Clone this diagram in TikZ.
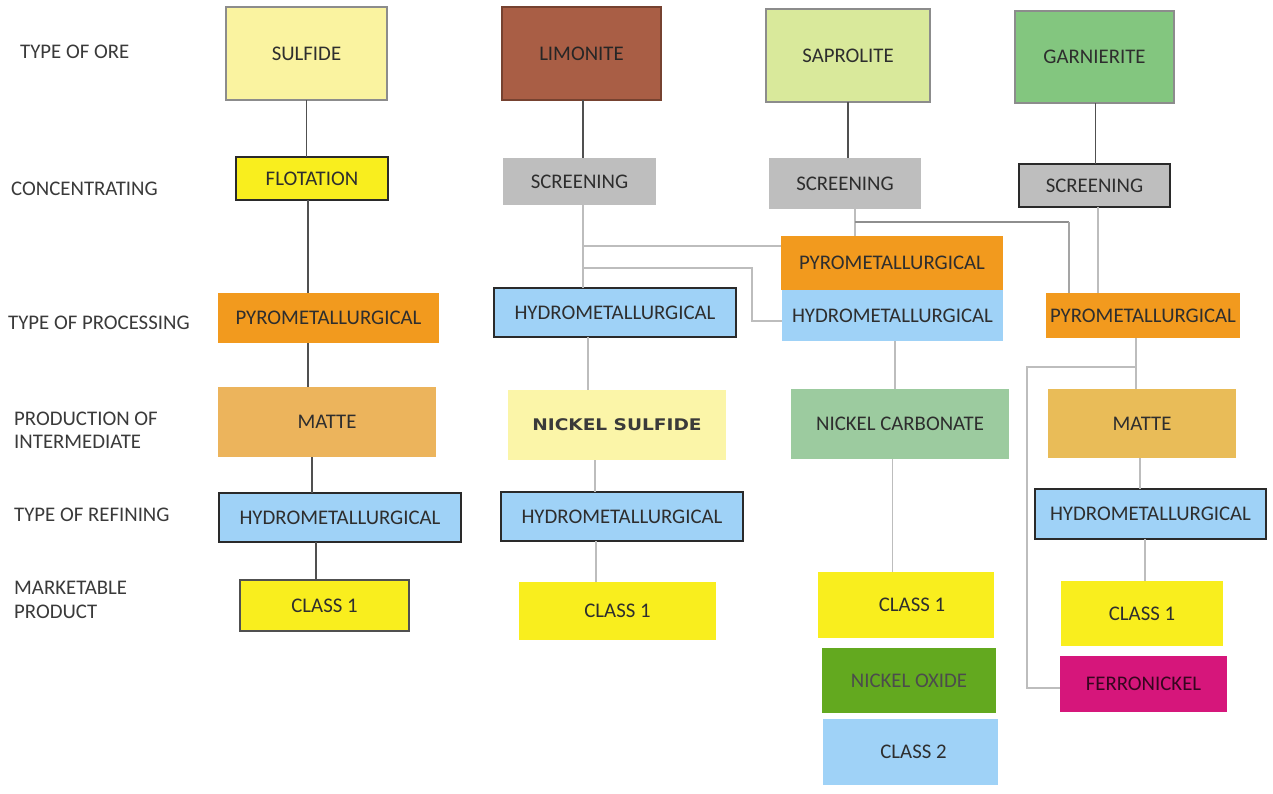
\documentclass[tikz,border=0pt]{standalone}
\usepackage{fontspec}
\usepackage{graphicx}
\setmainfont{Carlito}
\newfontfamily\nsfont{DejaVu Sans}
\definecolor{csulf}{HTML}{FAF3A0}
\definecolor{clim}{HTML}{A95E45}
\definecolor{csap}{HTML}{D9E99B}
\definecolor{cgarn}{HTML}{83C67F}
\definecolor{cgray}{HTML}{BEBEBE}
\definecolor{cyel}{HTML}{F9EE1E}
\definecolor{corange}{HTML}{F29A1E}
\definecolor{cmatteA}{HTML}{ECB45C}
\definecolor{cmatteB}{HTML}{E9BC58}
\definecolor{cblue}{HTML}{9FD2F7}
\definecolor{cnis}{HTML}{FBF5A8}
\definecolor{cncarb}{HTML}{9CCB9F}
\definecolor{cnox}{HTML}{63A91F}
\definecolor{cmag}{HTML}{D6167B}
\definecolor{boxtxt}{HTML}{2E2E2E}
\definecolor{labtxt}{HTML}{3A3A3A}
\definecolor{thinbord}{HTML}{8C8C8C}
\definecolor{darkbord}{HTML}{2A2A2A}
\definecolor{darkln}{HTML}{505050}
\definecolor{lightln}{HTML}{BDBDBD}
\definecolor{medln}{HTML}{8E8E8E}
\begin{document}
\begin{tikzpicture}[x=1pt,y=-1pt,
  box/.style={rectangle, anchor=north west, inner sep=0pt, outer sep=0pt, align=center,
    font=\fontsize{20.8}{23}\selectfont, text=boxtxt},
  thinb/.style={draw=thinbord, line width=1.2pt},
  darkb/.style={draw=darkbord, line width=1.8pt},
  lab/.style={anchor=west, inner sep=0pt, align=left, text=labtxt,
    font=\fontsize{20.8}{23.5}\selectfont},
  dk/.style={draw=darkln, line width=1.6pt},
  lt/.style={draw=lightln, line width=1.2pt},
  md/.style={draw=medln, line width=1.8pt}]
\useasboundingbox (0,0) rectangle (1273,793);
\fill[white] (0,0) rectangle (1273,793);

% row labels
\node[lab] (r1) at (20,52) {TYPE OF ORE};
\node[lab] (r2) at (11,189) {CONCENTRATING};
\node[lab] (r3) at (8,323) {TYPE OF PROCESSING};
\node[lab] (r4) at (14,430) {PRODUCTION OF\\INTERMEDIATE};
\node[lab] (r5) at (14,515) {TYPE OF REFINING};
\node[lab] (r6) at (14,600) {MARKETABLE\\PRODUCT};

% column 1
\node[box, thinb, fill=csulf, minimum width=161pt, minimum height=93pt] (sulf) at (226,7) {SULFIDE};
\node[box, darkb, fill=cyel, minimum width=152pt, minimum height=43pt] (flot) at (236,157) {FLOTATION};
\node[box, fill=corange, minimum width=221pt, minimum height=50pt] (pyroA) at (218,293) {PYROMETALLURGICAL};
\node[box, fill=cmatteA, minimum width=218pt, minimum height=70pt] (matteA) at (218,387) {MATTE};
\node[box, darkb, fill=cblue, minimum width=242pt, minimum height=49pt] (hydroA) at (219,493) {HYDROMETALLURGICAL};
\node[box, draw=darkln, line width=1.5pt, fill=cyel, minimum width=169pt, minimum height=51pt] (clA) at (240,580) {CLASS 1};

% column 2
\node[box, draw=clim!70!black, line width=1.2pt, fill=clim, minimum width=159pt, minimum height=93pt, text=black!85] (lim) at (502,7) {LIMONITE};
\node[box, fill=cgray, minimum width=153pt, minimum height=47pt] (scrL) at (503,158) {SCREENING};
\node[box, darkb, fill=cblue, minimum width=242pt, minimum height=49pt] (hydroL) at (494,288) {HYDROMETALLURGICAL};
\node[box, fill=cnis, minimum width=218pt, minimum height=70pt, text=labtxt, font=\nsfont\bfseries\fontsize{16}{19}\selectfont] (nis) at (508,390) {\scalebox{1.16}[1]{NICKEL SULFIDE}};
\node[box, darkb, fill=cblue, minimum width=242pt, minimum height=49pt] (hydroL2) at (501,492) {HYDROMETALLURGICAL};
\node[box, fill=cyel, minimum width=197pt, minimum height=58pt] (clL) at (519,582) {CLASS 1};

% column 3
\node[box, thinb, fill=csap, minimum width=164pt, minimum height=93pt] (sap) at (766,9) {SAPROLITE};
\node[box, fill=cgray, minimum width=152pt, minimum height=51pt] (scrS) at (769,158) {SCREENING};
\node[box, fill=corange, minimum width=222pt, minimum height=54pt] (pyroC) at (781,236) {PYROMETALLURGICAL};
\node[box, fill=cblue, minimum width=221pt, minimum height=51pt] (hydroC) at (782,290) {HYDROMETALLURGICAL};
\node[box, fill=cncarb, minimum width=218pt, minimum height=70pt] (ncarb) at (791,389) {NICKEL CARBONATE};
\node[box, fill=cyel, minimum width=176pt, minimum height=66pt] (clC) at (818,572) {\hspace*{12pt}CLASS 1};
\node[box, fill=cnox, minimum width=174pt, minimum height=65pt, text=black!70] (nox) at (822,648) {NICKEL OXIDE};
\node[box, fill=cblue, minimum width=175pt, minimum height=66pt] (cl2) at (823,719) {\hspace*{6pt}CLASS 2};

% column 4
\node[box, thinb, fill=cgarn, minimum width=159pt, minimum height=92pt] (garn) at (1015,11) {GARNIERITE};
\node[box, darkb, fill=cgray, minimum width=151pt, minimum height=43pt] (scrG) at (1019,164) {SCREENING};
\node[box, fill=corange, minimum width=194pt, minimum height=45pt] (pyroR) at (1046,293) {PYROMETALLURGICAL};
\node[box, fill=cmatteB, minimum width=188pt, minimum height=69pt] (matteR) at (1048,389) {MATTE};
\node[box, darkb, fill=cblue, minimum width=231pt, minimum height=50pt] (hydroR) at (1035,489) {HYDROMETALLURGICAL};
\node[box, fill=cyel, minimum width=162pt, minimum height=65pt] (clR) at (1061,581) {CLASS 1};
\node[box, fill=cmag, minimum width=167pt, minimum height=56pt, text=black!75!cmag] (ferro) at (1060,656) {FERRONICKEL};

% connectors column 1
\coordinate (a1) at (sulf.south);
\draw[dk] (a1) -- (a1 |- flot.north);
\coordinate (a2) at ([xshift=-4pt]flot.south);
\draw[dk] (a2) -- (a2 |- pyroA.north);
\coordinate (a3) at ([xshift=-20.5pt]pyroA.south);
\draw[dk] (a3) -- (a3 |- matteA.north);
\coordinate (a4) at ([xshift=-15pt]matteA.south);
\draw[dk] (a4) -- (a4 |- hydroA.north);
\coordinate (a5) at ([xshift=-24pt]hydroA.south);
\draw[dk] (a5) -- (a5 |- clA.north);

% connectors column 2
\coordinate (b1) at ([xshift=1.5pt]lim.south);
\draw[dk] (b1) -- (b1 |- scrL.north);
\coordinate (b2) at ([xshift=3.5pt]scrL.south);
\draw[lt] (b2) -- (b2 |- hydroL.north);
\coordinate (jl1) at (583,246);
\draw[lt] (jl1) -- (jl1 -| pyroC.west);
\coordinate (jl2) at (583,268);
\coordinate (jl3) at (752,268);
\coordinate (jl4) at (752,321);
\draw[lt] (jl2) -- (jl3) -- (jl4) -- (jl4 -| hydroC.west);
\coordinate (b3) at ([xshift=-27pt]hydroL.south);
\draw[lt] (b3) -- (b3 |- nis.north);
\coordinate (b4) at ([xshift=-22pt]nis.south);
\draw[lt] (b4) -- (b4 |- hydroL2.north);
\coordinate (b5) at ([xshift=-26pt]hydroL2.south);
\draw[lt] (b5) -- (b5 |- clL.north);

% connectors column 3
\draw[dk] (sap.south) -- (sap.south |- scrS.north);
\coordinate (c1) at ([xshift=10pt]scrS.south);
\draw[lt] (c1) -- (c1 |- pyroC.north);
\coordinate (js1) at (855,222);
\coordinate (js2) at (1069,222);
\draw[md] (js1) -- (js2);
\draw[draw=medln!80, line width=1.4pt] (js2) -- (js2 |- pyroR.north);
\coordinate (c2) at ([xshift=2.5pt]hydroC.south);
\draw[lt] (c2) -- (c2 |- ncarb.north);
\coordinate (c3) at ([xshift=-7.5pt]ncarb.south);
\draw[lt] (c3) -- (c3 |- clC.north);

% connectors column 4
\coordinate (d1) at ([xshift=1pt]garn.south);
\draw[dk] (d1) -- (d1 |- scrG.north);
\coordinate (d2) at ([xshift=3.5pt]scrG.south);
\draw[lt] (d2) -- (d2 |- pyroR.north);
\coordinate (d3) at ([xshift=-7pt]pyroR.south);
\draw[lt] (d3) -- (d3 |- matteR.north);
\coordinate (jg1) at (1136,367);
\coordinate (jg2) at (1027,367);
\coordinate (jg3) at (1027,688);
\draw[lt] (jg1) -- (jg2) -- (jg3) -- (jg3 -| ferro.west);
\coordinate (d4) at ([xshift=-2pt]matteR.south);
\draw[lt] (d4) -- (d4 |- hydroR.north);
\coordinate (d5) at ([xshift=-5.5pt]hydroR.south);
\draw[lt] (d5) -- (d5 |- clR.north);
\end{tikzpicture}
\end{document}
